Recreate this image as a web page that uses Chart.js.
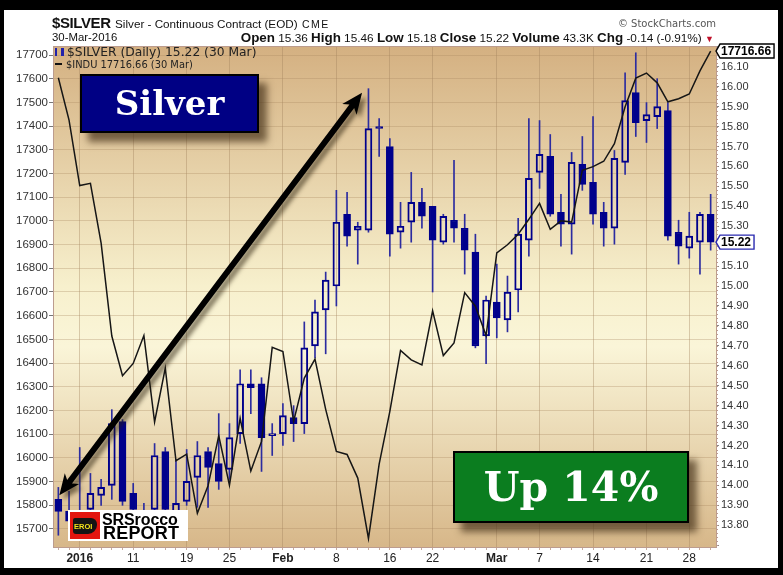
<!DOCTYPE html>
<html>
<head>
<meta charset="utf-8">
<script src="https://cdn.jsdelivr.net/npm/chart.js@4.4.1/dist/chart.umd.min.js"></script>
<style>
  html, body { margin: 0; padding: 0; background: #000; }
  #frame { position: absolute; left: 4px; top: 10px; width: 774px; height: 558px; background: #fff; }
  #chart { position: absolute; left: 0; top: 0; }
  .txt { position: absolute; white-space: nowrap; font-family: 'Liberation Sans', Arial, sans-serif; color: #111; }
  #title { left: 52px; top: 14px; }
  #title b { font-size: 15px; letter-spacing: -0.4px; }
  #title .sub { font-size: 11.7px; }
  #title .cme { font-size: 10.5px; letter-spacing: 1.5px; }
  #date { left: 52px; top: 31px; font-size: 11.4px; }
  #sc { right: 67px; top: 18px; font-family: 'DejaVu Sans', sans-serif; font-size: 10px; color: #555; }
  #quote { right: 69px; top: 30px; font-size: 11.8px; }
  #quote b { font-size: 13.4px; }
  #quote .dn { color: #c0102a; font-size: 9px; }
  #legend { left: 55px; top: 46px; font-family: 'DejaVu Sans', sans-serif; color: #222; }
  #legend .l1 { font-size: 12.3px; line-height: 13px; }
  #legend .l2 { font-size: 9.9px; line-height: 11px; }
  #legend .ico { display: inline-block; width: 9px; height: 8px; border-left: 2px solid #2222aa; border-right: 3px solid #2222aa; box-sizing: border-box; margin-right: 3px; vertical-align: 0; }
  #legend .dash { display: inline-block; width: 7px; height: 2px; background: #111; vertical-align: 3px; margin-right: 4px; }
  .box { position: absolute; border: 2px solid #000; box-shadow: 8px 9px 7px rgba(70, 50, 25, 0.7);
         color: #fff; font-family: 'DejaVu Serif', serif; font-weight: bold; text-align: center; }
  #silverBox { left: 80px; top: 74px; width: 175px; height: 55px; background: #000084; font-size: 34px; line-height: 55px; }
  #upBox { left: 453px; top: 451px; width: 232px; height: 68px; background: #0b7d1f; font-size: 41px; line-height: 68px; }
  #logo { position: absolute; left: 68px; top: 510px; width: 120px; height: 31px; background: #fff; }
  #logo .red { position: absolute; left: 2px; top: 2px; width: 30px; height: 27px; background: #e3150f; }
  #logo .map { position: absolute; left: 3px; top: 6px; width: 24px; height: 16px; background: #141414; border-radius: 2px 6px 9px 3px; }
  #logo .eroi { position: absolute; left: 4px; top: 10px; font: bold 7.5px 'Liberation Sans', sans-serif; color: #f4e41c; }
  #logo .w1 { position: absolute; left: 34px; top: 2px; font: bold 16px/16px 'Liberation Sans', sans-serif; color: #000; letter-spacing: -0.1px; }
  #logo .w2 { position: absolute; left: 35px; top: 14px; font: bold 18px/18px 'Liberation Sans', sans-serif; color: #000; letter-spacing: 0.2px; }
</style>
</head>
<body>
<div id="frame"></div>
<canvas id="chart" width="783" height="575"></canvas>

<div class="txt" id="title"><b>$SILVER</b> <span class="sub">Silver - Continuous Contract (EOD)</span> <span class="cme">CME</span></div>
<div class="txt" id="date">30-Mar-2016</div>
<div class="txt" id="sc">© StockCharts.com</div>
<div class="txt" id="quote"><b>Open</b> 15.36 <b>High</b> 15.46 <b>Low</b> 15.18 <b>Close</b> 15.22 <b>Volume</b> 43.3K <b>Chg</b> -0.14 (-0.91%) <span class="dn">▼</span></div>
<div class="txt" id="legend">
  <div class="l1"><span class="ico"></span>$SILVER (Daily) 15.22 (30 Mar)</div>
  <div class="l2"><span class="dash"></span>$INDU 17716.66 (30 Mar)</div>
</div>
<div class="box" id="silverBox">Silver</div>
<div class="box" id="upBox">Up 14%</div>
<div id="logo">
  <div class="red"><div class="map"></div><div class="eroi">EROI</div></div>
  <div class="w1">SRSrocco</div>
  <div class="w2">REPORT</div>
</div>

<script>
/* data */

const dates = [
  '2015-12-30', '2015-12-31',
  '2016-01-04', '2016-01-05', '2016-01-06', '2016-01-07', '2016-01-08',
  '2016-01-11', '2016-01-12', '2016-01-13', '2016-01-14', '2016-01-15',
  '2016-01-19', '2016-01-20', '2016-01-21', '2016-01-22',
  '2016-01-25', '2016-01-26', '2016-01-27', '2016-01-28', '2016-01-29',
  '2016-02-01', '2016-02-02', '2016-02-03', '2016-02-04', '2016-02-05',
  '2016-02-08', '2016-02-09', '2016-02-10', '2016-02-11', '2016-02-12',
  '2016-02-16', '2016-02-17', '2016-02-18', '2016-02-19',
  '2016-02-22', '2016-02-23', '2016-02-24', '2016-02-25', '2016-02-26',
  '2016-02-29', '2016-03-01', '2016-03-02', '2016-03-03', '2016-03-04',
  '2016-03-07', '2016-03-08', '2016-03-09', '2016-03-10', '2016-03-11',
  '2016-03-14', '2016-03-15', '2016-03-16', '2016-03-17', '2016-03-18',
  '2016-03-21', '2016-03-22', '2016-03-23', '2016-03-24',
  '2016-03-28', '2016-03-29', '2016-03-30'
];

const tickDates = ['2016-01-04', '2016-01-11', '2016-01-19', '2016-01-25', '2016-02-01', '2016-02-08',
  '2016-02-16', '2016-02-22', '2016-03-01', '2016-03-07', '2016-03-14', '2016-03-21', '2016-03-28'];
const tickLabels = ['2016', '11', '19', '25', 'Feb', '8', '16', '22', 'Mar', '7', '14', '21', '28'];
const boldTicks = ['2016', 'Feb', 'Mar'];

const silverOpen = [13.93, 13.87, 13.80, 13.88, 13.95, 14.00, 14.32, 13.96, 13.82, 13.88, 14.17, 13.86, 13.92, 14.04, 14.17, 14.11,
  14.08, 14.26, 14.51, 14.51, 14.25, 14.26, 14.34, 14.31, 14.70, 14.88, 15.00, 15.36, 15.28, 15.28, 15.80, 15.70,
  15.27, 15.32, 15.42, 15.40, 15.22, 15.33, 15.29, 15.17, 14.75, 14.92, 14.83, 14.98, 15.23, 15.57, 15.65, 15.37,
  15.31, 15.61, 15.52, 15.37, 15.29, 15.62, 15.97, 15.83, 15.85, 15.88, 15.27, 15.19, 15.22, 15.36];
const silverHigh = [13.99, 13.97, 14.19, 14.06, 14.03, 14.38, 14.33, 14.01, 13.91, 14.21, 14.19, 14.13, 14.18, 14.22, 14.19, 14.36,
  14.31, 14.58, 14.58, 14.54, 14.31, 14.41, 14.40, 14.82, 14.93, 15.07, 15.48, 15.47, 15.32, 15.99, 15.84, 15.74,
  15.42, 15.57, 15.49, 15.40, 15.36, 15.63, 15.36, 15.26, 14.95, 15.11, 15.05, 15.34, 15.84, 15.83, 15.76, 15.46,
  15.67, 15.75, 15.85, 15.42, 15.68, 16.07, 16.17, 15.92, 16.04, 15.92, 15.33, 15.37, 15.37, 15.46];
const silverLow = [13.75, 13.78, 13.76, 13.85, 13.90, 13.93, 13.90, 13.83, 13.76, 13.85, 13.85, 13.83, 13.90, 13.89, 13.89, 13.98,
  14.03, 14.21, 14.36, 14.07, 14.15, 14.20, 14.22, 14.26, 14.64, 14.66, 14.90, 15.20, 15.11, 15.27, 15.65, 15.15,
  15.19, 15.22, 15.29, 14.97, 15.21, 15.22, 15.06, 14.69, 14.61, 14.74, 14.77, 14.87, 15.15, 15.49, 15.35, 15.20,
  15.16, 15.48, 15.31, 15.20, 15.21, 15.56, 15.75, 15.72, 15.79, 15.23, 15.11, 15.14, 15.06, 15.18];
const silverClose = [13.87, 13.82, 13.87, 13.96, 13.99, 14.31, 13.92, 13.88, 13.87, 14.15, 13.88, 13.91, 14.02, 14.15, 14.09, 14.02,
  14.24, 14.51, 14.49, 14.24, 14.26, 14.35, 14.31, 14.69, 14.87, 15.03, 15.32, 15.25, 15.30, 15.79, 15.79, 15.26,
  15.30, 15.42, 15.35, 15.23, 15.35, 15.29, 15.18, 14.70, 14.93, 14.84, 14.97, 15.26, 15.54, 15.66, 15.36, 15.31,
  15.62, 15.51, 15.36, 15.29, 15.64, 15.93, 15.82, 15.86, 15.90, 15.25, 15.20, 15.25, 15.36, 15.22];

const induClose = [17603.87, 17425.03, 17148.94, 17158.66, 16906.51, 16514.10, 16346.45, 16398.57, 16516.22, 16151.41,
  16379.05, 15988.08, 16016.02, 15766.74, 15882.68, 16093.51, 15885.22, 16167.23, 15944.46, 16069.64,
  16466.30, 16449.18, 16153.54, 16336.66, 16416.58, 16204.97, 16027.05, 16014.38, 15914.74, 15660.18,
  15973.84, 16196.41, 16453.83, 16413.43, 16391.99, 16620.66, 16431.78, 16484.99, 16697.29, 16639.97,
  16516.50, 16865.08, 16899.32, 16943.90, 17006.77, 17073.95, 16964.10, 17000.36, 16995.13, 17213.31,
  17229.13, 17251.53, 17325.76, 17481.49, 17602.30, 17623.87, 17582.57, 17502.59, 17515.73, 17535.39,
  17633.11, 17716.66];

/* candle pieces */

const bodies = silverOpen.map((o, i) => [Math.min(o, silverClose[i]), Math.max(o, silverClose[i])]);
const upperWicks = silverHigh.map((h, i) => [Math.max(silverOpen[i], silverClose[i]), h]);
const lowerWicks = silverLow.map((l, i) => [l, Math.min(silverOpen[i], silverClose[i])]);

const navy = '#00008c';
const wickColor = '#2c2ca0';
const gridColor = 'rgba(170, 138, 98, 0.33)';
const borderColor = '#bc9c8e';

function tickIndex(i) {
  return tickDates.indexOf(dates[i]);
}

/* arrow + tags + background */

function drawArrow(ctx, x0, y0, x1, y1) {
  const ang = Math.atan2(y1 - y0, x1 - x0);
  const len = Math.hypot(x1 - x0, y1 - y0);
  const headL = 21, headW = 9, shaft = 3;
  ctx.save();
  ctx.translate(x0, y0);
  ctx.rotate(ang);
  ctx.beginPath();
  ctx.moveTo(0, 0);
  ctx.lineTo(headL, -headW);
  ctx.lineTo(headL - 4, -shaft);
  ctx.lineTo(len - headL + 4, -shaft);
  ctx.lineTo(len - headL, -headW);
  ctx.lineTo(len, 0);
  ctx.lineTo(len - headL, headW);
  ctx.lineTo(len - headL + 4, shaft);
  ctx.lineTo(headL - 4, shaft);
  ctx.lineTo(headL, headW);
  ctx.closePath();
  ctx.shadowColor = 'rgba(40, 30, 10, 0.55)';
  ctx.shadowOffsetX = 4;
  ctx.shadowOffsetY = 4;
  ctx.shadowBlur = 4;
  ctx.fillStyle = '#000';
  ctx.fill();
  ctx.restore();
}

function drawTag(ctx, x, y, text, color) {
  ctx.save();
  ctx.font = 'bold 12px "Liberation Sans", Arial, sans-serif';
  const w = ctx.measureText(text).width + 4;
  const h = 14;
  ctx.beginPath();
  ctx.moveTo(x, y);
  ctx.lineTo(x + 4, y - h / 2);
  ctx.lineTo(x + 4 + w, y - h / 2);
  ctx.lineTo(x + 4 + w, y + h / 2);
  ctx.lineTo(x + 4, y + h / 2);
  ctx.closePath();
  ctx.fillStyle = '#fff';
  ctx.fill();
  ctx.lineWidth = 1.4;
  ctx.strokeStyle = color;
  ctx.stroke();
  ctx.fillStyle = '#000';
  ctx.textBaseline = 'middle';
  ctx.fillText(text, x + 5, y + 1);
  ctx.restore();
}

const decor = {
  id: 'decor',
  beforeDraw(chart) {
    const { ctx, chartArea: a } = chart;
    const g = ctx.createLinearGradient(0, a.top, 0, a.bottom);
    g.addColorStop(0, '#d4b081');
    g.addColorStop(0.48, '#f7f0cd');
    g.addColorStop(0.6, '#faf5d8');
    g.addColorStop(1, '#d7b789');
    ctx.save();
    ctx.fillStyle = g;
    ctx.fillRect(a.left, a.top, a.right - a.left, a.bottom - a.top);
    ctx.restore();
  },
  afterDatasetsDraw(chart) {
    const { ctx, scales } = chart;
    const x = scales.x, y1 = scales.y1;
    const step = x.getPixelForValue(1) - x.getPixelForValue(0);
    // from the first candle up to the Feb 11 top
    drawArrow(ctx,
      x.getPixelForValue(0) + 1, y1.getPixelForValue(13.95),
      x.getPixelForValue(28) + step * 0.4, y1.getPixelForValue(15.97));
  },
  afterDraw(chart) {
    const { ctx, chartArea: a, scales } = chart;
    ctx.save();
    ctx.strokeStyle = borderColor;
    ctx.lineWidth = 1;
    ctx.beginPath();
    ctx.moveTo(a.left, a.top + 0.5);
    ctx.lineTo(a.right, a.top + 0.5);
    for (let v = 13.70; v <= 16.2; v += 0.02) {
      const p = Math.round(scales.y1.getPixelForValue(v)) + 0.5;
      ctx.moveTo(a.right, p);
      ctx.lineTo(a.right + 2, p);
    }
    ctx.stroke();
    ctx.restore();
    const last = dates.length - 1;
    drawTag(ctx, a.right, scales.y.getPixelForValue(induClose[last]), induClose[last].toFixed(2), '#000');
    drawTag(ctx, a.right, scales.y1.getPixelForValue(silverClose[last]), silverClose[last].toFixed(2), '#2a2ab0');
  }
};

/* chart */

Chart.defaults.font.family = "'Liberation Sans', Arial, sans-serif";

const ctx = document.getElementById('chart').getContext('2d');

const chart = new Chart(ctx, {
  type: 'bar',
  data: {
    labels: dates,
    datasets: [
      {
        type: 'line',
        label: '$INDU',
        data: induClose,
        yAxisID: 'y',
        borderColor: '#161616',
        borderWidth: 1.5,
        pointRadius: 0,
        tension: 0,
        order: 0
      },
      {
        label: 'upper wick',
        data: upperWicks,
        yAxisID: 'y1',
        backgroundColor: wickColor,
        barThickness: 1,
        grouped: false,
        order: 2
      },
      {
        label: 'lower wick',
        data: lowerWicks,
        yAxisID: 'y1',
        backgroundColor: wickColor,
        barThickness: 1,
        grouped: false,
        order: 2
      },
      {
        label: '$SILVER',
        data: bodies,
        yAxisID: 'y1',
        backgroundColor: (c) => silverClose[c.dataIndex] < silverOpen[c.dataIndex] ? navy : 'rgba(0,0,0,0)',
        borderColor: navy,
        borderWidth: 1.3,
        borderSkipped: false,
        barThickness: 7,
        grouped: false,
        order: 1
      }
    ]
  },
  options: {
    responsive: false,
    animation: false,
    devicePixelRatio: 1,
    layout: { padding: { left: 4, right: 5, top: 46, bottom: 8 } },
    plugins: { legend: { display: false }, tooltip: { enabled: false } },
    scales: {
      x: {
        offset: true,
        grid: {
          offset: false,
          color: (c) => tickIndex(c.index) >= 0 ? 'rgba(160, 128, 92, 0.38)' : 'rgba(0,0,0,0)',
          tickLength: 3,
          tickColor: '#c7ab9c'
        },
        border: { color: borderColor },
        ticks: {
          autoSkip: false,
          maxRotation: 0,
          padding: 1,
          color: '#222',
          callback: (v) => {
            const k = tickIndex(v);
            return k >= 0 ? tickLabels[k] : '';
          },
          font: (c) => {
            const k = tickIndex(c.index);
            const bold = k >= 0 && boldTicks.includes(tickLabels[k]);
            return { size: 12, weight: bold ? 'bold' : 'normal' };
          }
        },
        afterFit: (s) => { s.height = 20; }
      },
      y: {
        position: 'left',
        min: 15624,
        max: 17738,
        grid: { color: gridColor, tickLength: 4, tickColor: '#777' },
        border: { color: borderColor },
        ticks: {
          stepSize: 100,
          includeBounds: false,
          padding: 1,
          color: '#333',
          font: { size: 11.5 },
          callback: (v) => String(Math.round(v))
        },
        afterFit: (s) => { s.width = 49; }
      },
      y1: {
        position: 'right',
        min: 13.691,
        max: 16.204,
        grid: { drawOnChartArea: false, tickLength: 3, tickColor: '#888' },
        border: { color: borderColor },
        ticks: {
          stepSize: 0.1,
          includeBounds: false,
          padding: 2,
          color: '#333',
          font: { size: 11 },
          callback: (v) => (v < 13.75 || v > 16.15) ? '' : v.toFixed(2)
        },
        afterFit: (s) => { s.width = 62; }
      }
    }
  },
  plugins: [decor]
});
</script>
</body>
</html>
